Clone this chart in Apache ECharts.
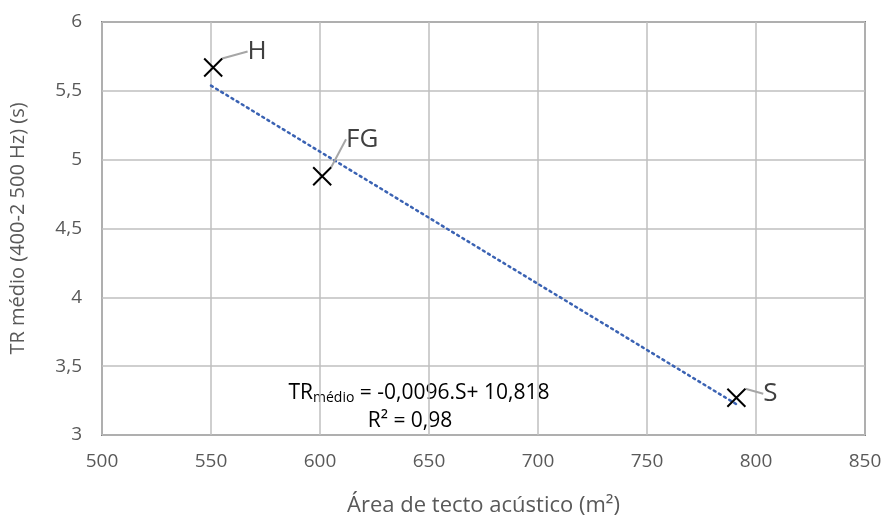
<!DOCTYPE html>
<html><head><meta charset="utf-8">
<script src="https://cdn.jsdelivr.net/npm/echarts@6/dist/echarts.min.js"></script>
<style>html,body{margin:0;padding:0;background:#fff}#c{width:881px;height:522px}</style>
</head><body><div id="c"></div>
<script>
const pointNames = ['H', 'FG', 'S'];
const areaValues = [551, 601, 791];
const trValues = [5.67, 4.88, 3.27];
const trendX = [550, 791];
const trendY = [5.538, 3.224];
const xTicks = [500, 550, 600, 650, 700, 750, 800, 850];
const yTicks = [3, 3.5, 4, 4.5, 5, 5.5, 6];
const labelOffsets = [[44, -16], [40, -37], [34, -4]];

const chart = echarts.init(document.getElementById('c'), null, {renderer: 'canvas'});
const font = '"Open Sans", "Noto Sans", sans-serif';
chart.setOption({
  animation: false,
  backgroundColor: '#fff',
  grid: {left: 102, right: 16, top: 22, bottom: 87, show: true, borderColor: '#7f7f7f', borderWidth: 2,
    containLabel: false, outerBoundsMode: 'none'},
  xAxis: {
    type: 'value', min: xTicks[0], max: xTicks[xTicks.length-1], interval: 50,
    name: 'Área de tecto acústico (m²)', nameLocation: 'middle', nameGap: 60,
    nameTextStyle: {fontFamily: font, fontSize: 22, color: '#595959'},
    axisLine: {show: false}, axisTick: {show: false},
    axisLabel: {fontFamily: font, fontSize: 19, color: '#595959', margin: 17},
    splitLine: {lineStyle: {color: '#bfbfbf', width: 1.5}}
  },
  yAxis: {
    type: 'value', min: yTicks[0], max: yTicks[yTicks.length-1], interval: 0.5,
    name: 'TR médio (400-2 500 Hz) (s)', nameLocation: 'middle', nameGap: 74,
    nameTextStyle: {fontFamily: font, fontSize: 20, color: '#595959'},
    axisLine: {show: false}, axisTick: {show: false},
    axisLabel: {fontFamily: font, fontSize: 19, color: '#595959', margin: 20,
      formatter: v => String(v).replace('.', ',')},
    splitLine: {lineStyle: {color: '#bfbfbf', width: 1.5}}
  },
  series: [
    {
      type: 'line', data: trendX.map((x, i) => [x, trendY[i]]),
      symbol: 'none', lineStyle: {color: '#3a62b3', width: 2.5, type: [2, 4], cap: 'round'}, z: 2
    },
    {
      type: 'scatter', z: 3,
      data: areaValues.map((x, i) => ({value: [x, trValues[i]], name: pointNames[i]})),
      symbol: 'path://M0,0L10,10M10,0L0,10', symbolSize: 18,
      itemStyle: {color: 'rgba(0,0,0,0)', borderColor: '#000', borderWidth: 2, opacity: 1},
      label: {show: true, formatter: p => p.name, fontFamily: font, fontSize: 26, color: '#404040', position: 'inside'},
      labelLine: {show: true, lineStyle: {color: '#a6a6a6', width: 2}},
      labelLayout: p => ({dx: labelOffsets[p.dataIndex][0], dy: labelOffsets[p.dataIndex][1]})
    }
  ],
  graphic: [
    {type: 'text', x: 419, y: 393, style: {
      text: '{a|TR}{s|médio}{a| = -0,0096.S+ 10,818}', align: 'center', verticalAlign: 'middle',
      rich: {a: {fontFamily: font, fontSize: 21, fill: '#000'}, s: {fontFamily: font, fontSize: 14, fill: '#000', padding: [10, 0, 0, 0]}}
    }},
    {type: 'text', x: 410, y: 421, style: {
      text: 'R² = 0,98', align: 'center', verticalAlign: 'middle', fontFamily: font, fontSize: 21, fill: '#000'
    }}
  ]
});
</script></body></html>
